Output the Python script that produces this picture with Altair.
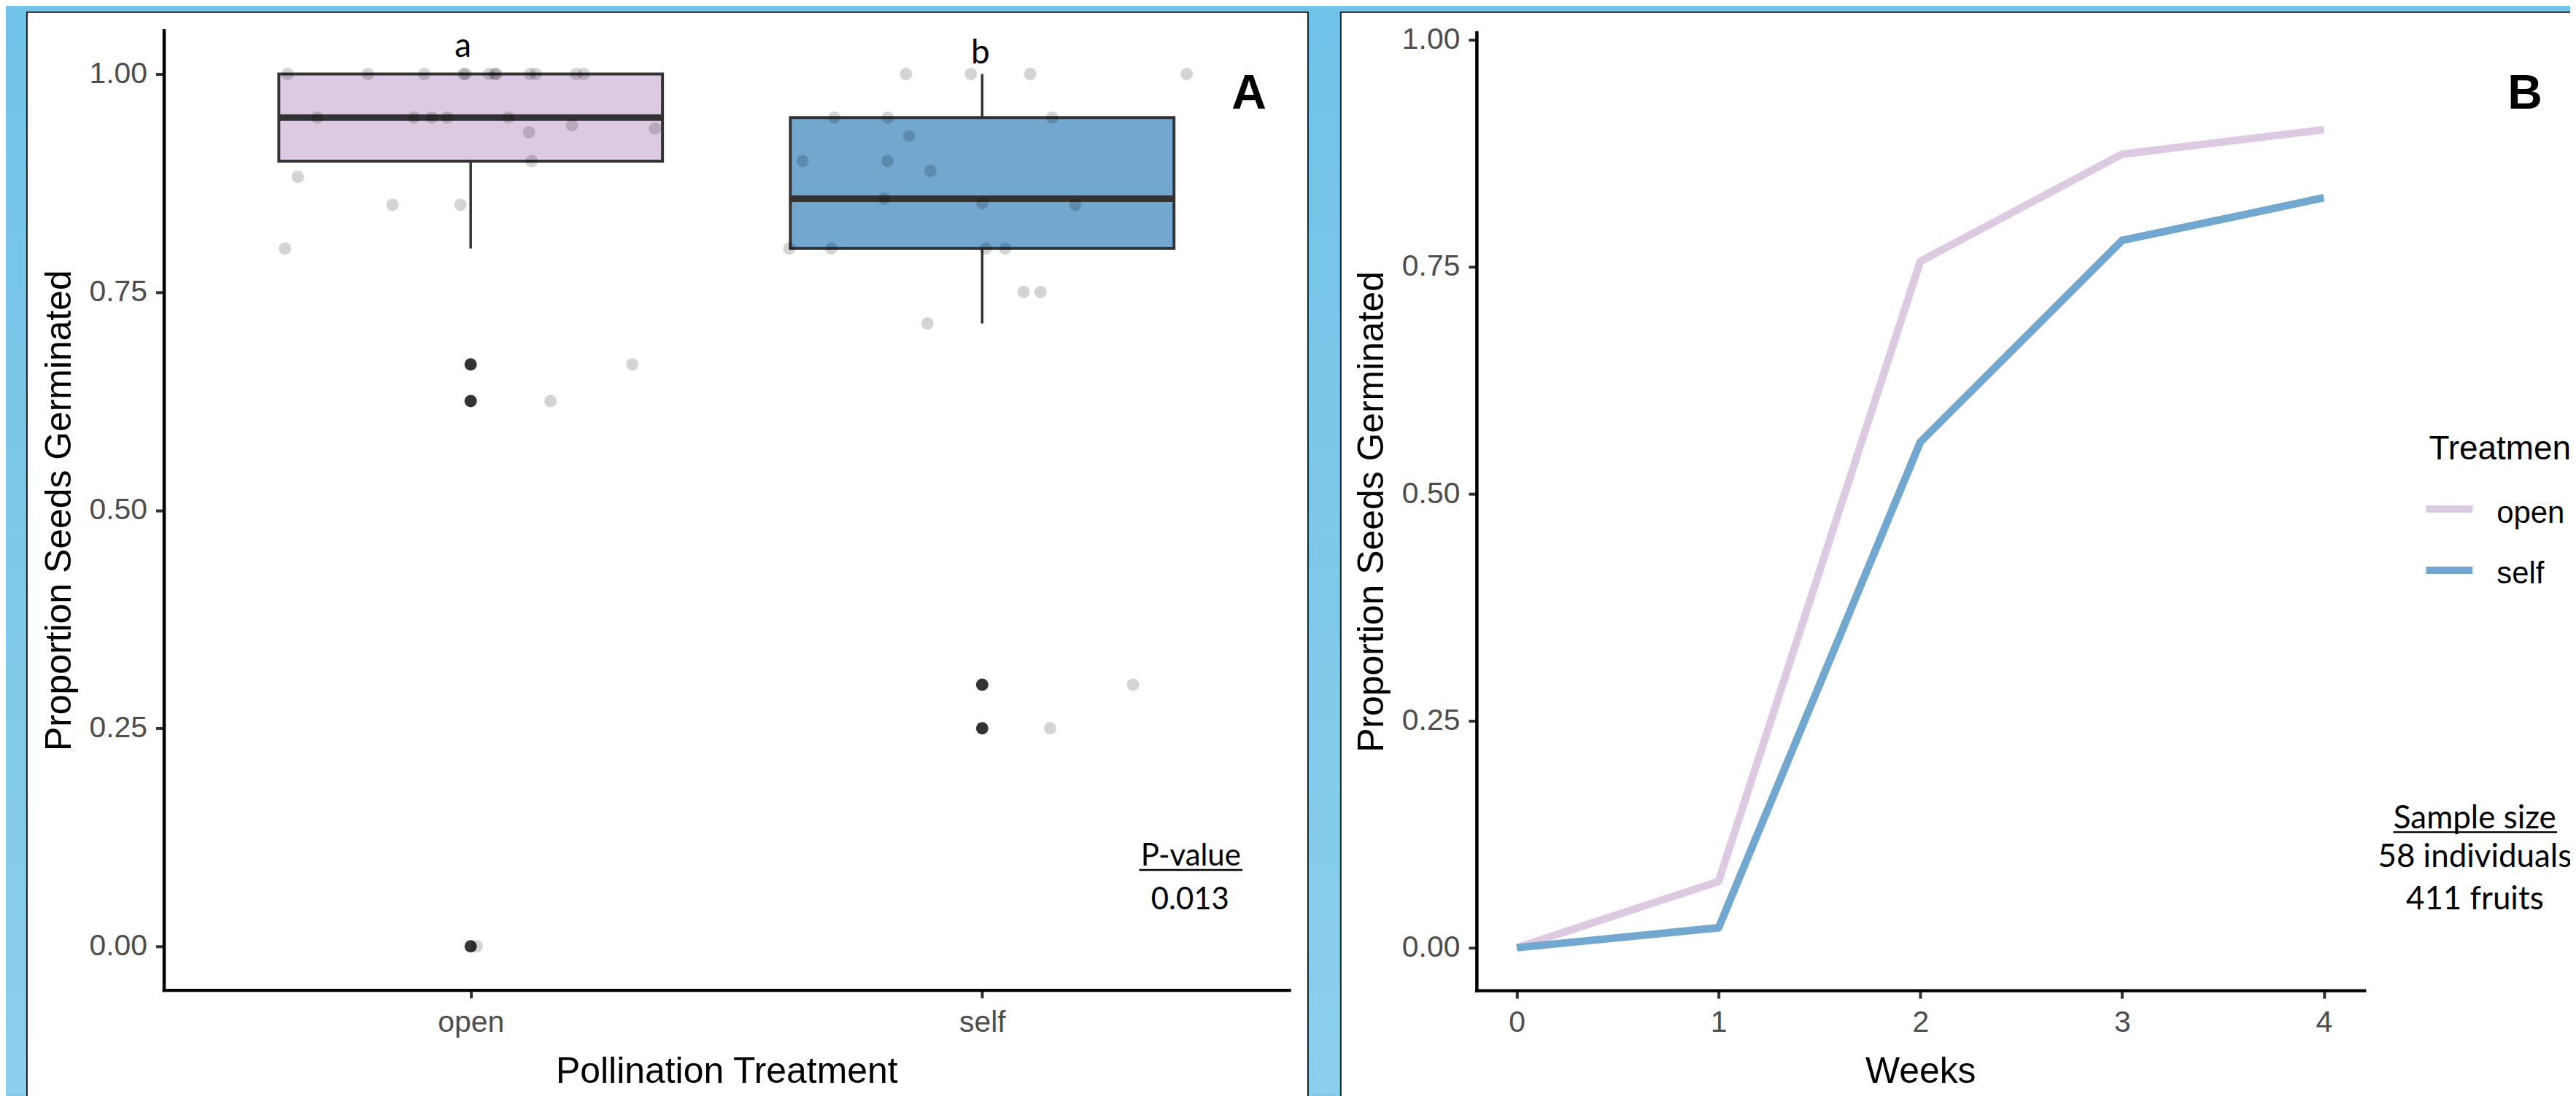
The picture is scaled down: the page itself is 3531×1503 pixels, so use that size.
import altair as alt
import pandas as pd

# ------------------------------------------------------------------ data
groups = ["open", "self"]
group_pos = [1, 2]

# panel A: box statistics
box_q1 = [0.90, 0.80]
box_median = [0.95, 0.857]
box_q3 = [1.00, 0.95]
whisker_low = [0.80, 0.714]
whisker_high = [1.00, 1.00]

# panel A: outliers (boxplot)
outlier_group = ["open", "open", "open", "self", "self"]
outlier_value = [0.667, 0.625, 0.0, 0.30, 0.25]

# panel A: jittered individual values (jitter in category units)
open_value = [1.0, 1.0, 1.0, 1.0, 1.0, 1.0, 1.0, 1.0, 1.0, 1.0, 1.0, 1.0,
              0.95, 0.95, 0.95, 0.95, 0.95, 0.941, 0.933, 0.9375, 0.90,
              0.882, 0.85, 0.85, 0.80, 0.667, 0.625, 0.0]
open_jitter = [-0.358, -0.201, -0.091, -0.014, -0.010, 0.036, 0.047, 0.050,
               0.116, 0.127, 0.206, 0.221, -0.300, -0.111, -0.076, -0.046,
               0.074, 0.198, 0.114, 0.360, 0.119, -0.338, -0.153, -0.020,
               -0.363, 0.316, 0.156, 0.012]
self_value = [1.0, 1.0, 1.0, 1.0, 0.95, 0.95, 0.95, 0.929, 0.90, 0.90,
              0.889, 0.857, 0.852, 0.85, 0.80, 0.80, 0.80, 0.80, 0.75, 0.75,
              0.714, 0.30, 0.25]
self_jitter = [-0.149, -0.022, 0.094, 0.400, -0.289, -0.185, 0.137, -0.143,
               -0.351, -0.185, -0.101, -0.191, 0.0, 0.182, -0.377, -0.295,
               0.007, 0.045, 0.081, 0.114, -0.107, 0.295, 0.133]

# panel B: cumulative germination
weeks = [0, 1, 2, 3, 4]
open_curve = [0.0, 0.073, 0.756, 0.874, 0.901]
self_curve = [0.0, 0.022, 0.557, 0.779, 0.826]

y_ticks = [0, 0.25, 0.5, 0.75, 1.0]

# ------------------------------------------------------------------ styles
W, H = 3523, 1495
OPEN_COL = "#DCCAE3"
SELF_COL = "#72A8D0"
DARK = "#333333"
AX_FONT = "Liberation Sans"
ANN_FONT = "Lato"

dummy = pd.DataFrame({"k": [0]})

color_scale = alt.Scale(domain=groups, range=[OPEN_COL, SELF_COL])


def axis(orient, offset, title, values, fmt=None, label_expr=None,
         label_pad=12, title_pad=16):
    kw = dict(orient=orient, offset=offset, title=title, values=values,
              domainColor="black", domainWidth=4.5, domainCap="square",
              tickColor=DARK, tickWidth=4, tickSize=11,
              labelColor="#4D4D4D", labelFont=AX_FONT, labelFontSize=41,
              labelPadding=label_pad, labelFlush=False, labelOverlap=False,
              titleFont=AX_FONT, titleFontSize=50, titleColor="black",
              titleFontWeight="normal", titlePadding=title_pad,
              grid=False, zindex=1)
    if fmt:
        kw["format"] = fmt
    if label_expr:
        kw["labelExpr"] = label_expr
    return alt.Axis(**kw)


def px_rect(x, x2, y, y2, **kw):
    return alt.Chart(dummy).mark_rect(**kw).encode(
        x=alt.value(x), x2=alt.value(x2), y=alt.value(y), y2=alt.value(y2))


def hline(x, x2, y, color, width):
    return alt.Chart(dummy).mark_rule(color=color, strokeWidth=width).encode(
        x=alt.value(x), x2=alt.value(x2), y=alt.value(y))


def label(text, x, y, size, font=ANN_FONT, weight="normal", align="center",
          color="black"):
    return alt.Chart(dummy).mark_text(
        text=text, font=font, fontSize=size, fontWeight=weight, align=align,
        baseline="alphabetic", color=color).encode(
        x=alt.value(x), y=alt.value(y))


# ------------------------------------------------------------------ background
bg = px_rect(0, W, 0, H, color=alt.LinearGradient(
    gradient="linear",
    stops=[alt.GradientStop(color="#71C2E8", offset=0),
           alt.GradientStop(color="#8BCFEC", offset=1)],
    x1=0, x2=0, y1=0, y2=1))
panelA_bg = px_rect(29, 1789, 7, H + 20, fill="white", stroke="#1E1E1E",
                    strokeWidth=2)
panelB_bg = px_rect(1834, W + 20, 7, H + 20, fill="white", stroke="#1E1E1E",
                    strokeWidth=2)
background = alt.layer(bg, panelA_bg, panelB_bg)

# ------------------------------------------------------------------ panel A
xA = alt.Scale(domain=[0.4, 2.6], range=[217, 1763], nice=False, zero=False)
yA = alt.Scale(domain=[-0.05, 1.05], range=[1351, 32], nice=False, zero=False)
label_expr = "datum.value == 1 ? '%s' : '%s'" % (groups[0], groups[1])
axA_x = axis("bottom", -144, "Pollination Treatment", group_pos,
             label_expr=label_expr, label_pad=14, title_pad=22)
axA_y = axis("left", -217, "Proportion Seeds Germinated", y_ticks, fmt=".2f")


def xa(field):
    return alt.X(field, type="quantitative", scale=xA, axis=axA_x)


def ya(field):
    return alt.Y(field, type="quantitative", scale=yA, axis=axA_y)


box_df = pd.DataFrame({"group": groups, "pos": group_pos, "q1": box_q1,
                       "med": box_median, "q3": box_q3, "lo": whisker_low,
                       "hi": whisker_high})
box_base = alt.Chart(box_df).transform_calculate(
    left="datum.pos - 0.375", right="datum.pos + 0.375")

whisk_lo = box_base.mark_rule(color=DARK, strokeWidth=3.5).encode(
    x=xa("pos"), y=ya("lo"), y2="q1:Q")
whisk_hi = box_base.mark_rule(color=DARK, strokeWidth=3.5).encode(
    x=xa("pos"), y=ya("q3"), y2="hi:Q")
box = box_base.mark_rect(stroke=DARK, strokeWidth=4, opacity=1).encode(
    x=xa("left"), x2="right:Q", y=ya("q1"), y2="q3:Q",
    color=alt.Color("group:N", scale=color_scale, legend=None))
median = box_base.mark_rule(color=DARK, strokeWidth=9).encode(
    x=xa("left"), x2="right:Q", y=ya("med"))

out_df = pd.DataFrame({"group": outlier_group, "value": outlier_value})
outliers = alt.Chart(out_df).transform_calculate(
    pos="datum.group == '%s' ? 1 : 2" % groups[0]
).mark_circle(size=290, color=DARK, opacity=1).encode(
    x=xa("pos"), y=ya("value"))

pts_df = pd.DataFrame({
    "group": [groups[0]] * len(open_value) + [groups[1]] * len(self_value),
    "value": open_value + self_value,
    "jitter": open_jitter + self_jitter,
})
jitter = alt.Chart(pts_df).transform_calculate(
    xpos="(datum.group == '%s' ? 1 : 2) + datum.jitter" % groups[0]
).mark_circle(size=290, color="black", opacity=0.17).encode(
    x=xa("xpos"), y=ya("value"))

panelA = alt.layer(whisk_lo, whisk_hi, box, median, outliers, jitter)

# ------------------------------------------------------------------ panel B
xB = alt.Scale(domain=[-0.2, 4.2], range=[2020.5, 3240], nice=False,
               zero=False)
yB = alt.Scale(domain=[-0.047, 1.008], range=[1351.5, 35], nice=False,
               zero=False)
axB_x = axis("bottom", -143.5, "Weeks", weeks, fmt="d", label_pad=14,
             title_pad=22)
axB_y = axis("left", -2020.5, "Proportion Seeds Germinated", y_ticks,
             fmt=".2f")

curve_df = pd.DataFrame({
    "week": weeks + weeks,
    "group": [groups[0]] * len(weeks) + [groups[1]] * len(weeks),
    "prop": open_curve + self_curve,
})
panelB = alt.Chart(curve_df).mark_line(strokeWidth=10.5, strokeJoin="round").encode(
    x=alt.X("week:Q", scale=xB, axis=axB_x),
    y=alt.Y("prop:Q", scale=yB, axis=axB_y),
    color=alt.Color("group:N", scale=color_scale, legend=None),
    detail="group:N",
)

# ------------------------------------------------------------------ annotations
ann = alt.layer(
    label("A", 1708, 140, 66, font=AX_FONT, weight="bold"),
    label("B", 3461, 140, 66, font=AX_FONT, weight="bold"),
    label("a", 628, 68, 46),
    label("b", 1339, 77, 46),
    label("P-value", 1628, 1180, 42),
    hline(1557, 1699, 1186, "black", 2.5),
    label("0.013", 1627, 1240, 42),
    label("Sample size", 3392, 1129, 44),
    hline(3280, 3505, 1134, "black", 2.5),
    label("58 individuals", 3392, 1182, 44),
    label("411 fruits", 3392, 1240, 44),
    # legend of panel B
    label("Treatment", 3329, 622, 46, font=AX_FONT, align="left"),
    hline(3325, 3389, 690, OPEN_COL, 10),
    hline(3325, 3389, 774, SELF_COL, 10),
    label(groups[0], 3422, 709, 42, font=AX_FONT, align="left"),
    label(groups[1], 3422, 792, 42, font=AX_FONT, align="left"),
)

chart = alt.layer(background, panelA, panelB, ann).resolve_scale(
    x="independent", y="independent"
).properties(
    width=W, height=H, padding=0,
    autosize=alt.AutoSizeParams(type="none"),
).configure(background="#7CC8EA").configure_view(stroke=None)

chart.save("out.html", embed_options={"renderer": "svg", "actions": False})
